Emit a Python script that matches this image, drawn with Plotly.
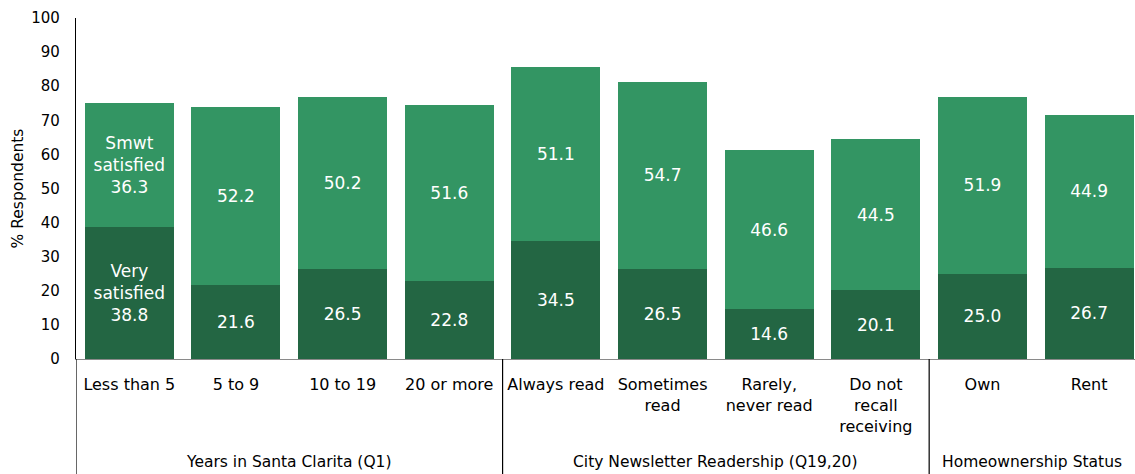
import plotly.graph_objects as go

categories = ["Less than 5", "5 to 9", "10 to 19", "20 or more",
              "Always read", "Sometimes<br>read", "Rarely,<br>never read",
              "Do not<br>recall<br>receiving", "Own", "Rent"]
very_satisfied = [38.8, 21.6, 26.5, 22.8, 34.5, 26.5, 14.6, 20.1, 25.0, 26.7]
smwt_satisfied = [36.3, 52.2, 50.2, 51.6, 51.1, 54.7, 46.6, 44.5, 51.9, 44.9]
groups = ["Years in Santa Clarita (Q1)", "City Newsletter Readership (Q19,20)", "Homeownership Status"]
group_sizes = [4, 4, 2]
y_ticks = list(range(0, 101, 10))

FONT = "DejaVu Sans"
DARK = "#236643"
LIGHT = "#339563"

x = list(range(len(categories)))
x_end = len(categories) - 0.57

very_text = [f"{v:.1f}" for v in very_satisfied]
very_text[0] = "Very<br>satisfied<br>" + very_text[0]
smwt_text = [f"{v:.1f}" for v in smwt_satisfied]
smwt_text[0] = "Smwt<br>satisfied<br>" + smwt_text[0]

fig = go.Figure()
fig.add_trace(go.Bar(x=x, y=very_satisfied, name="Very satisfied", marker_color=DARK,
                     marker_line_width=0, text=very_text, textposition="inside",
                     insidetextanchor="middle", textangle=0, constraintext="none",
                     textfont=dict(family=FONT, size=17, color="white"), hoverinfo="skip"))
fig.add_trace(go.Bar(x=x, y=smwt_satisfied, name="Smwt satisfied", marker_color=LIGHT,
                     marker_line_width=0, text=smwt_text, textposition="inside",
                     insidetextanchor="middle", textangle=0, constraintext="none",
                     textfont=dict(family=FONT, size=17, color="white"), hoverinfo="skip"))

bottom = -115 / 341
shapes = []
annotations = []
start = -0.5
for g, n in zip(groups, group_sizes):
    end = start + n
    right = min(end, x_end)
    shapes.append(dict(type="line", xref="x", yref="paper", x0=start, x1=start,
                       y0=bottom, y1=0, line=dict(color="black", width=1.2)))
    annotations.append(dict(text=g, xref="x", yref="paper", x=(start + right) / 2, y=bottom,
                            yanchor="bottom", yshift=1, showarrow=False,
                            font=dict(family=FONT, size=15.5, color="black")))
    start = end

fig.update_layout(
    barmode="stack", bargap=0.165, showlegend=False,
    width=1135, height=474,
    margin=dict(l=76, r=0, t=18, b=115, autoexpand=False),
    plot_bgcolor="white", paper_bgcolor="white",
    shapes=shapes, annotations=annotations,
    font=dict(family=FONT, size=15, color="black"),
)
fig.update_xaxes(range=[-0.5, x_end], tickvals=x, ticktext=categories, automargin=False,
                 tickfont=dict(family=FONT, size=16, color="black"),
                 showline=True, linecolor="#8a8a8a", linewidth=1.2, showgrid=False,
                 ticks="outside", ticklen=11, tickcolor="rgba(0,0,0,0)", zeroline=False)
fig.update_yaxes(range=[0, 100], tickvals=y_ticks, showgrid=False, zeroline=False,
                 showline=True, linecolor="black", linewidth=1.2, automargin=False,
                 tickfont=dict(family=FONT, size=15, color="black"),
                 ticks="outside", ticklen=12, tickcolor="rgba(0,0,0,0)",
                 title=dict(text="% Respondents", font=dict(family=FONT, size=15.5, color="black"),
                            standoff=3))

fig.write_html("out.html", config={"displayModeBar": False},
               post_script="document.body.style.margin='0';document.body.style.overflow='hidden';")
